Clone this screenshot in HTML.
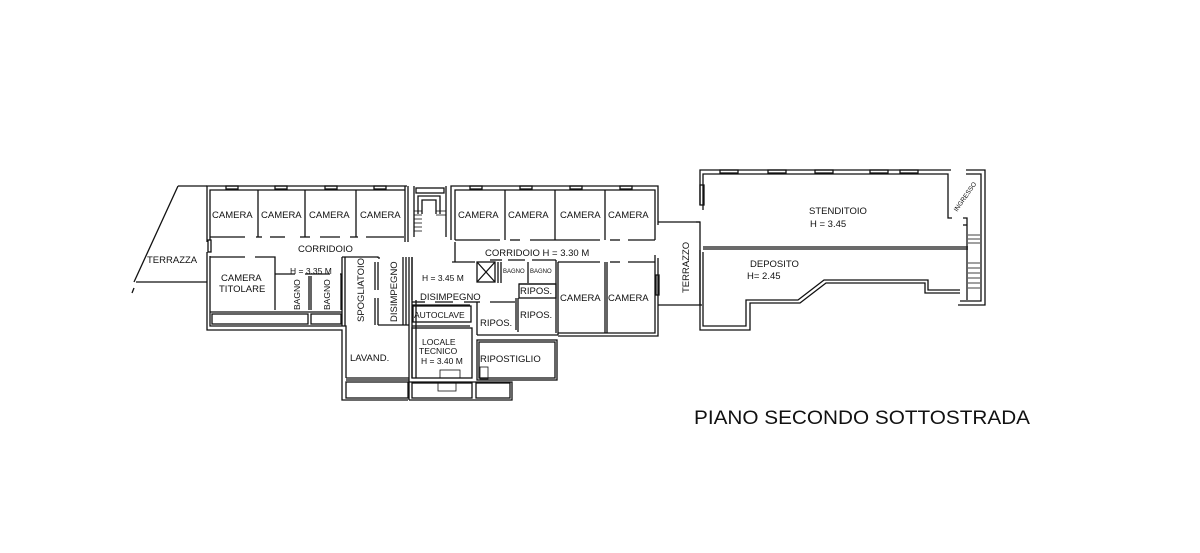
<!DOCTYPE html>
<html><head><meta charset="utf-8"><style>
html,body{margin:0;padding:0;background:#fff;}
svg{display:block;}
text{font-family:"Liberation Sans",sans-serif;fill:#111;}
</style></head><body>
<svg width="1200" height="553" viewBox="0 0 1200 553" xmlns="http://www.w3.org/2000/svg">
<g fill="none" stroke="#111" stroke-width="1.3">
<!-- Left terrace -->
<polyline points="178,186 207,186"/>
<polyline points="178,186 134,282"/>
<polyline points="136,282 207,282"/>
<polyline points="134,288 132,293"/>
<!-- Left block outer -->
<polyline points="207,242 207,186 407,186"/>
<polyline points="210,240 210,190 405,190"/>
<polyline points="207,252 207,330 342,330 342,400 408,400"/>
<polyline points="210,256 210,326 346,326 346,378"/>
<rect x="208" y="240" width="3" height="12"/>
<!-- camera row bottom wall -->
<polyline points="210,237 245,237"/><polyline points="256,237 262,237"/><polyline points="270,237 285,237"/>
<polyline points="300,237 310,237"/><polyline points="320,237 340,237"/><polyline points="350,237 358,237"/><polyline points="366,237 404,237"/>
<line x1="258" y1="190" x2="258" y2="237"/><line x1="305" y1="190" x2="305" y2="237"/><line x1="356" y1="190" x2="356" y2="237"/>
<line x1="405" y1="186" x2="405" y2="242"/><line x1="408" y1="186" x2="408" y2="242"/>
<!-- windows on top -->
<rect x="226" y="186" width="12" height="3"/><rect x="275" y="186" width="12" height="3"/><rect x="325" y="186" width="12" height="3"/><rect x="374" y="186" width="12" height="3"/>
<!-- lower left rooms -->
<polyline points="210,257 245,257"/><polyline points="255,257 275,257 275,310"/>
<polyline points="275,274 295,274"/><polyline points="305,274 330,274"/><polyline points="340,274 341,274 341,310"/>
<line x1="309" y1="276" x2="309" y2="310"/><line x1="311" y1="276" x2="311" y2="310"/>
<polyline points="342,257 378,257 378,258"/><polyline points="378,258 380,258"/>
<line x1="375" y1="262" x2="375" y2="290"/><line x1="378" y1="262" x2="378" y2="290"/>
<line x1="375" y1="298" x2="375" y2="325"/><line x1="378" y1="298" x2="378" y2="325"/>
<line x1="342" y1="257" x2="342" y2="326"/><line x1="345" y1="257" x2="345" y2="326"/>
<rect x="212" y="314" width="96" height="10"/><rect x="311" y="314" width="30" height="10"/>
<line x1="210" y1="312" x2="342" y2="312"/>
<!-- disimpegno column -->
<line x1="403" y1="257" x2="403" y2="325"/><line x1="406" y1="257" x2="406" y2="325"/>
<line x1="409" y1="257" x2="409" y2="400"/><line x1="412" y1="257" x2="412" y2="378"/>
<line x1="378" y1="325" x2="409" y2="325"/>
<!-- lavand bottom strip -->
<line x1="346" y1="378" x2="409" y2="378"/><line x1="346" y1="380" x2="409" y2="380"/>
<rect x="346" y="382" width="62" height="16"/>
<!-- stairs -->
<polyline points="414,186 414,237"/><polyline points="446,186 446,237"/>
<rect x="416" y="188" width="28" height="5"/>
<polyline points="418,214 418,196 440,196 440,214"/><polyline points="422,214 422,200 436,200 436,214"/>
<g stroke-width="0.8"><line x1="414" y1="211" x2="422" y2="211"/><line x1="414" y1="215" x2="422" y2="215"/><line x1="414" y1="219" x2="422" y2="219"/><line x1="414" y1="223" x2="422" y2="223"/><line x1="414" y1="227" x2="422" y2="227"/><line x1="414" y1="231" x2="422" y2="231"/><line x1="436" y1="211" x2="446" y2="211"/><line x1="436" y1="215" x2="446" y2="215"/></g>
<!-- middle cameras -->
<polyline points="451,240 451,186 658,186 658,225"/>
<polyline points="455,240 455,190 655,190 655,240"/>
<line x1="505" y1="190" x2="505" y2="240"/><line x1="555" y1="190" x2="555" y2="240"/><line x1="605" y1="190" x2="605" y2="240"/>
<polyline points="455,240 500,240"/><polyline points="510,240 520,240"/><polyline points="530,240 600,240"/><polyline points="610,240 620,240"/><polyline points="628,240 655,240"/>
<rect x="470" y="186" width="12" height="3"/><rect x="520" y="186" width="12" height="3"/><rect x="570" y="186" width="12" height="3"/><rect x="620" y="186" width="12" height="3"/>
<!-- link to right -->
<line x1="658" y1="222" x2="700" y2="222"/>
<line x1="658" y1="305" x2="702" y2="305"/>
<!-- middle lower -->
<polyline points="452,262 475,262"/><polyline points="455,262 455,242"/>
<polyline points="416,300 416,378"/>
<polyline points="412,257 412,300"/>
<rect x="477" y="262" width="18" height="20"/><line x1="477" y1="262" x2="495" y2="282"/><line x1="495" y1="262" x2="477" y2="282"/>
<line x1="498" y1="262" x2="498" y2="283"/><line x1="501" y1="262" x2="501" y2="283"/>
<polyline points="490,260 502,260"/><polyline points="508,260 525,260"/><polyline points="532,260 556,260"/>
<line x1="528" y1="262" x2="528" y2="283"/>
<polyline points="556,260 556,333"/><polyline points="558,262 558,335"/>
<polyline points="519,284 556,284"/><rect x="519" y="284" width="37" height="14"/>
<polyline points="453,302 435,302"/><polyline points="425,302 412,302"/>
<polyline points="464,302 480,302"/><polyline points="490,302 515,302"/>
<line x1="516" y1="298" x2="516" y2="330"/><line x1="518" y1="298" x2="518" y2="332"/>
<line x1="477" y1="302" x2="477" y2="335"/>
<polyline points="412,305 470,305"/><rect x="413" y="306" width="58" height="16"/>
<polyline points="412,326 470,326"/>
<line x1="477" y1="335" x2="558" y2="335"/>
<!-- lower camera pair -->
<polyline points="558,262 600,262"/><polyline points="610,262 620,262"/><polyline points="628,262 655,262"/>
<line x1="605" y1="262" x2="605" y2="333"/><line x1="607" y1="262" x2="607" y2="333"/>
<polyline points="655,255 655,333 558,333"/><polyline points="658,258 658,336 558,336"/>
<rect x="656" y="275" width="3" height="20"/>
<!-- locale & ripostiglio -->
<rect x="412" y="328" width="60" height="50"/>
<rect x="477" y="340" width="80" height="40"/><rect x="479" y="342" width="76" height="36"/>
<polyline points="409,382 512,382 512,400 409,400"/>
<rect x="412" y="383" width="60" height="15"/><rect x="476" y="383" width="34" height="15"/>
<g stroke-width="0.8"><rect x="440" y="370" width="20" height="8"/><rect x="438" y="383" width="18" height="8"/><rect x="480" y="367" width="8" height="12"/></g>
<!-- right block -->
<polyline points="696,222 700,222 700,305"/>
<polyline points="700,205 700,170 951,170"/>
<polyline points="703,210 703,174 948,174 948,218 952,218"/>
<rect x="700" y="185" width="4" height="20"/>
<polyline points="966,170 985,170 985,305 958,305"/>
<polyline points="966,174 981,174 981,301 960,301"/>
<polyline points="963,218 967,218 967,300"/><polyline points="963,225 967,225"/>
<line x1="703" y1="247" x2="968" y2="247"/><line x1="703" y1="249" x2="968" y2="249"/>
<polyline points="700,250 700,330 750,330 750,303 800,303 826,283 925,283 925,293 960,293"/>
<polyline points="703,252 703,326 746,326 746,300 798,300 824,280 928,280 928,290 960,290"/>
<g stroke-width="0.8"><line x1="968" y1="235" x2="980" y2="235"/><line x1="968" y1="239" x2="980" y2="239"/><line x1="968" y1="243" x2="980" y2="243"/><line x1="968" y1="263" x2="980" y2="263"/><line x1="968" y1="268" x2="980" y2="268"/><line x1="968" y1="273" x2="980" y2="273"/><line x1="968" y1="278" x2="980" y2="278"/><line x1="968" y1="283" x2="980" y2="283"/><line x1="968" y1="288" x2="980" y2="288"/></g>
<rect x="720" y="170" width="18" height="3"/><rect x="768" y="170" width="18" height="3"/><rect x="815" y="170" width="18" height="3"/><rect x="870" y="170" width="18" height="3"/><rect x="900" y="170" width="18" height="3"/>
</g>
<g font-size="9.5">
<text x="212" y="218">CAMERA</text><text x="261" y="218">CAMERA</text><text x="309" y="218">CAMERA</text><text x="360" y="218">CAMERA</text>
<text x="458" y="218">CAMERA</text><text x="508" y="218">CAMERA</text><text x="560" y="218">CAMERA</text><text x="608" y="218">CAMERA</text>
<text x="560" y="301">CAMERA</text><text x="608" y="301">CAMERA</text>
<text x="298" y="252">CORRIDOIO</text>
<text x="485" y="256">CORRIDOIO  H = 3.30 M</text>
<text x="147" y="263">TERRAZZA</text>
<text x="221" y="281">CAMERA</text><text x="219" y="292">TITOLARE</text>
<text x="290" y="274" font-size="8.5">H = 3.35 M</text>
<text x="422" y="281" font-size="8.5">H = 3.45 M</text>
<text x="420" y="300">DISIMPEGNO</text>
<text x="414" y="318" font-size="8.5">AUTOCLAVE</text>
<text x="520" y="294">RIPOS.</text><text x="480" y="326">RIPOS.</text><text x="520" y="318">RIPOS.</text>
<text x="422" y="345" font-size="8.5">LOCALE</text><text x="419" y="354" font-size="8.5">TECNICO</text><text x="421" y="364" font-size="8.5">H = 3.40 M</text>
<text x="480" y="362">RIPOSTIGLIO</text>
<text x="350" y="361">LAVAND.</text>
<text x="809" y="214">STENDITOIO</text><text x="810" y="227">H = 3.45</text>
<text x="750" y="267">DEPOSITO</text><text x="747" y="279">H= 2.45</text>
<text font-size="6" x="503" y="273">BAGNO</text><text font-size="6" x="530" y="273">BAGNO</text>
<text transform="translate(300,310) rotate(-90)" font-size="8.5">BAGNO</text>
<text transform="translate(330,310) rotate(-90)" font-size="8.5">BAGNO</text>
<text transform="translate(364,322) rotate(-90)">SPOGLIATOIO</text>
<text transform="translate(397,322) rotate(-90)">DISIMPEGNO</text>
<text transform="translate(689,293) rotate(-90)">TERRAZZO</text>
<text transform="translate(957,212) rotate(-55)" font-size="6.5">INGRESSO</text>
</g>
<text x="694" y="424" font-size="19" textLength="336" lengthAdjust="spacingAndGlyphs">PIANO SECONDO SOTTOSTRADA</text>
</svg>
</body></html>
